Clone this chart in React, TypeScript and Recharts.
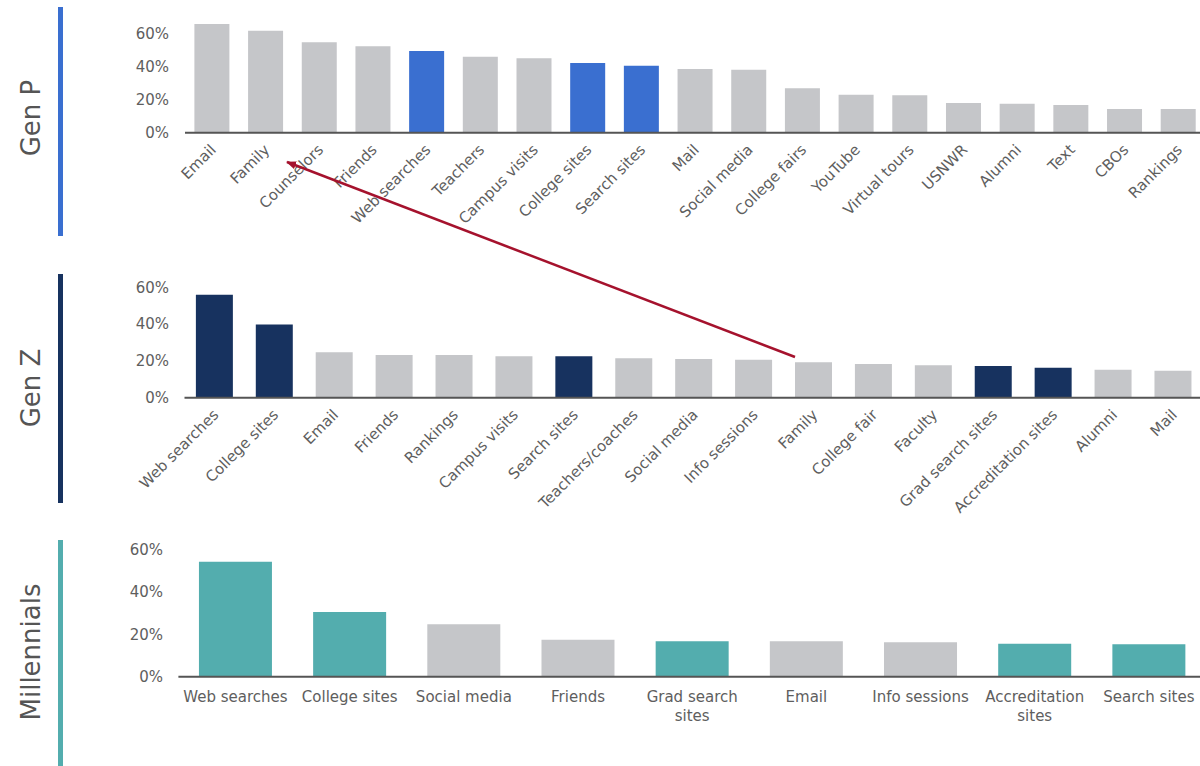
import React from 'react'
import { BarChart, Bar, XAxis, YAxis, Cell } from 'recharts'

const genPCategories = [
  'Email', 'Family', 'Counselors', 'Friends', 'Web searches', 'Teachers', 'Campus visits',
  'College sites', 'Search sites', 'Mail', 'Social media', 'College fairs', 'YouTube',
  'Virtual tours', 'USNWR', 'Alumni', 'Text', 'CBOs', 'Rankings',
]
const genPValues = [66, 62, 55, 52.5, 49.7, 46.2, 45.2, 42.4, 40.7, 38.7, 38.3, 27, 23.1, 22.7, 18, 17.6, 16.8, 14.4, 14.4]
const genPHighlight = ['Web searches', 'College sites', 'Search sites']

const genZCategories = [
  'Web searches', 'College sites', 'Email', 'Friends', 'Rankings', 'Campus visits', 'Search sites',
  'Teachers/coaches', 'Social media', 'Info sessions', 'Family', 'College fair', 'Faculty',
  'Grad search sites', 'Accreditation sites', 'Alumni', 'Mail',
]
const genZValues = [56.2, 40, 24.8, 23.3, 23.3, 22.6, 22.6, 21.5, 21.1, 20.7, 19.3, 18.4, 17.7, 17.3, 16.4, 15.3, 14.7]
const genZHighlight = ['Web searches', 'College sites', 'Search sites', 'Grad search sites', 'Accreditation sites']

const millCategories = [
  'Web searches', 'College sites', 'Social media', 'Friends', 'Grad search sites', 'Email',
  'Info sessions', 'Accreditation sites', 'Search sites',
]
const millValues = [54.5, 30.7, 24.8, 17.5, 16.8, 16.8, 16.3, 15.6, 15.4]
const millHighlight = ['Web searches', 'College sites', 'Grad search sites', 'Accreditation sites', 'Search sites']

const yTicks = [0, 20, 40, 60]

const GRAY = '#c5c6c9'
const BLUE = '#3a6fd0'
const NAVY = '#17325f'
const TEAL = '#53adae'
const AXIS = '#555555'
const TEXT = '#5e5e5e'
const FONT = '"DejaVu Sans", Verdana, sans-serif'

const toRows = (cats: string[], vals: number[]) => cats.map((name, i) => ({ name, value: vals[i] }))

const YTick = ({ y, payload, right }: any) => (
  <text x={right} y={y} dy={5} textAnchor="end" fill={TEXT} fontSize={15} fontFamily={FONT}>
    {payload.value}%
  </text>
)

const RotTick = ({ x, y, payload }: any) => (
  <g transform={`translate(${x + 5},${y + 10})`}>
    <text x={0} y={0} textAnchor="end" transform="rotate(-45)" fill={TEXT} fontSize={15} fontFamily={FONT}>
      {payload.value}
    </text>
  </g>
)

const WrapTick = ({ x, y, payload }: any) => {
  const s: string = payload.value
  let lines = [s]
  if (s.length > 14) {
    const k = s.lastIndexOf(' ')
    lines = [s.slice(0, k), s.slice(k + 1)]
  }
  return (
    <text x={x} y={y + 17} textAnchor="middle" fill={TEXT} fontSize={15} fontFamily={FONT}>
      {lines.map((l, i) => (
        <tspan key={i} x={x} dy={i === 0 ? 0 : 19}>{l}</tspan>
      ))}
    </text>
  )
}

function Panel({ rows, highlight, color, top, width, height, margin, xHeight, yWidth, labelRight, gap, wrap }: any) {
  return (
    <div style={{ position: 'absolute', left: 0, top }}>
      <BarChart width={width} height={height} data={rows} margin={margin} barCategoryGap={gap}>
        <XAxis
          dataKey="name"
          interval={0}
          height={xHeight}
          tickLine={false}
          axisLine={{ stroke: AXIS, strokeWidth: 2 }}
          tick={wrap ? <WrapTick /> : <RotTick />}
        />
        <YAxis
          domain={[0, 70]}
          ticks={yTicks}
          width={yWidth}
          axisLine={false}
          tickLine={false}
          tick={<YTick right={labelRight} />}
        />
        <Bar dataKey="value" isAnimationActive={false}>
          {rows.map((r: any) => (
            <Cell key={r.name} fill={highlight.includes(r.name) ? color : GRAY} />
          ))}
        </Bar>
      </BarChart>
    </div>
  )
}

export default function App() {
  return (
    <div style={{ position: 'absolute', left: 0, top: 0, width: 1200, height: 766, overflow: 'hidden', background: '#fff' }}>
      <Panel
        rows={toRows(genPCategories, genPValues)}
        highlight={genPHighlight}
        color={BLUE}
        top={0}
        width={1205}
        height={245}
        margin={{ top: 17.5, right: 0, bottom: 0, left: 0 }}
        xHeight={112.3}
        yWidth={185}
        labelRight={169}
        gap="17.5%"
      />
      <Panel
        rows={toRows(genZCategories, genZValues)}
        highlight={genZHighlight}
        color={NAVY}
        top={250}
        width={1203}
        height={280}
        margin={{ top: 19.4, right: 0, bottom: 0, left: 0 }}
        xHeight={132.3}
        yWidth={184.5}
        labelRight={169}
        gap="19%"
      />
      <Panel
        rows={toRows(millCategories, millValues)}
        highlight={millHighlight}
        color={TEAL}
        top={515}
        width={1206}
        height={240}
        margin={{ top: 14, right: 0, bottom: 0, left: 0 }}
        xHeight={78.3}
        yWidth={178.4}
        labelRight={163}
        gap="18%"
        wrap
      />
      <svg width={1200} height={766} style={{ position: 'absolute', left: 0, top: 0, pointerEvents: 'none' }}>
        <defs>
          <marker id="head" markerWidth="10" markerHeight="8" refX="9" refY="4" orient="auto" markerUnits="userSpaceOnUse">
            <path d="M0,0 L10,4 L0,8 Z" fill="#a5122d" />
          </marker>
        </defs>
        <rect x={58} y={7} width={5} height={229} fill={BLUE} />
        <rect x={58} y={274} width={5} height={229} fill={NAVY} />
        <rect x={58} y={540} width={5} height={230} fill={TEAL} />
        <text transform="translate(40,118) rotate(-90)" textAnchor="middle" fontSize={26} fill="#555" fontFamily={FONT}>Gen P</text>
        <text transform="translate(40,388) rotate(-90)" textAnchor="middle" fontSize={26} fill="#555" fontFamily={FONT}>Gen Z</text>
        <text transform="translate(40,652) rotate(-90)" textAnchor="middle" fontSize={26} fill="#555" fontFamily={FONT}>Millennials</text>
        <line x1={795} y1={357} x2={287} y2={162} stroke="#a5122d" strokeWidth={2.5} markerEnd="url(#head)" />
      </svg>
    </div>
  )
}
